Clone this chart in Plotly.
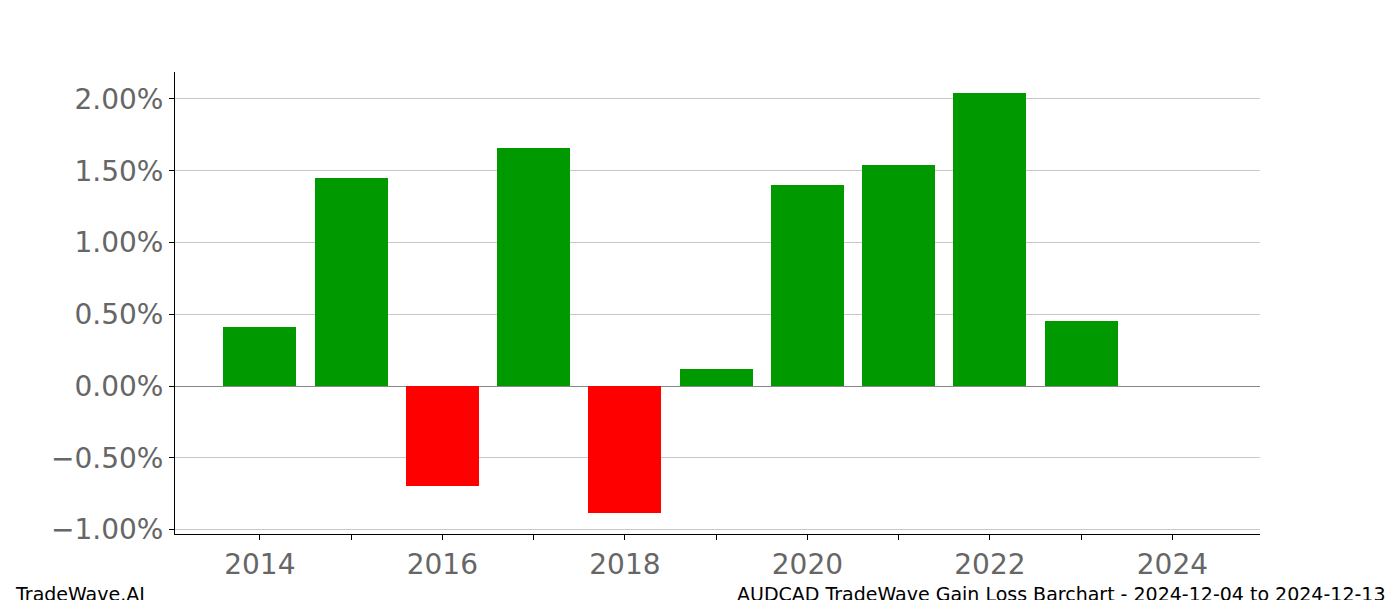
import plotly.graph_objects as go

years = [2014, 2015, 2016, 2017, 2018, 2019, 2020, 2021, 2022, 2023]
gains = [0.0041, 0.0145, -0.0070, 0.0166, -0.00885, 0.0012, 0.0140, 0.0154, 0.0204, 0.0045]
colors = ["#009900" if g >= 0 else "#ff0000" for g in gains]

fig = go.Figure()
fig.add_trace(go.Bar(x=years, y=gains, marker=dict(color=colors, line=dict(width=0)), width=0.8))

fig.update_layout(
    width=1400, height=600,
    plot_bgcolor="white", paper_bgcolor="white",
    margin=dict(l=167, r=148, t=64, b=74, autoexpand=False),
    font=dict(family="DejaVu Sans", size=28, color="#666666"),
    showlegend=False,
    bargap=0,
)
fig.update_xaxes(
    range=[2013.07, 2024.96], tickvals=list(range(2014, 2025)),
    ticktext=[str(y) if y % 2 == 0 else "" for y in range(2014, 2025)],
    showline=True, linecolor="black", linewidth=1,
    ticks="outside", ticklen=5, tickcolor="black", showgrid=False,
    tickfont=dict(size=28),
)
fig.update_yaxes(
    range=[-0.01031, 0.02188], tickvals=[-0.01, -0.005, 0, 0.005, 0.01, 0.015, 0.02],
    tickformat=".2%", showline=True, linecolor="black", linewidth=1,
    ticks="outside", ticklen=5, tickcolor="black",
    showgrid=True, gridcolor="#c8c8c8", gridwidth=1,
    zeroline=True, zerolinecolor="#888888", zerolinewidth=1,
    tickfont=dict(size=28),
)
fig.add_annotation(text="TradeWave.AI", x=0, y=0, xref="paper", yref="paper",
                   xanchor="left", yanchor="middle", showarrow=False,
                   font=dict(size=19, color="black"), xshift=-162, yshift=-60)
fig.add_annotation(text="AUDCAD TradeWave Gain Loss Barchart - 2024-12-04 to 2024-12-13",
                   x=1, y=0, xref="paper", yref="paper", xanchor="right", yanchor="middle",
                   showarrow=False, font=dict(size=19, color="black"), xshift=128, yshift=-60)

fig.write_html("out.html")
